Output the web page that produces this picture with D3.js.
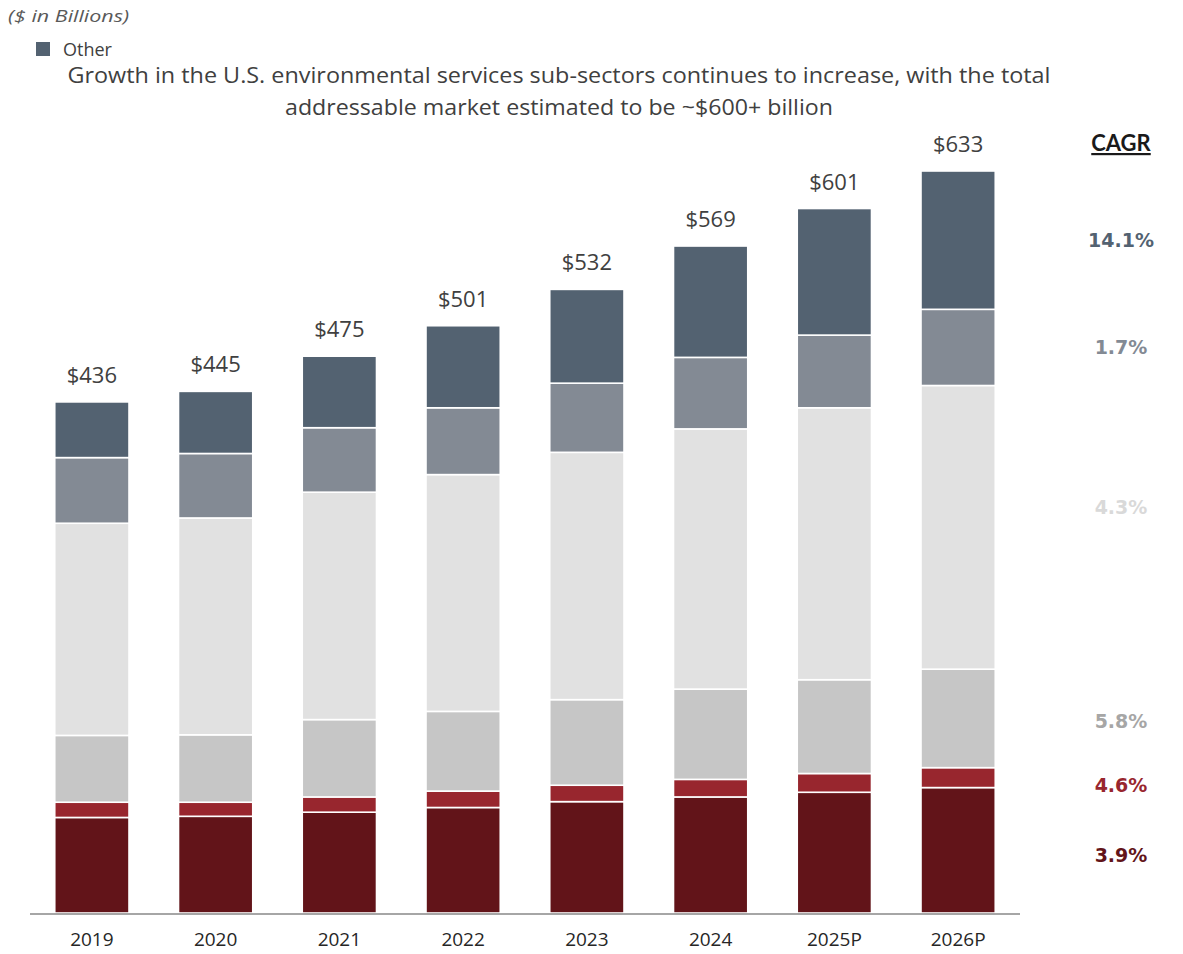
<!DOCTYPE html>
<html>
<head>
<meta charset="utf-8">
<script src="https://cdn.jsdelivr.net/npm/d3@7"></script>
<style>
  html, body { margin: 0; padding: 0; background: #fff; }
  svg { display: block; }
</style>
</head>
<body>
<svg id="chart" width="1183" height="954"></svg>
<script>
// ---- data ----
const years = ["2019", "2020", "2021", "2022", "2023", "2024", "2025P", "2026P"];
const totalLabels = ["$436", "$445", "$475", "$501", "$532", "$569", "$601", "$633"];
const seriesNames = ["s1", "s2", "s3", "s4", "s5", "Other"]; // bottom to top
const s1Values = [81.5, 82.5, 86, 90, 95, 99, 103, 107];
const s2Values = [13, 12, 13, 14, 14, 15, 16, 17];
const s3Values = [57, 57.5, 66, 68, 73, 77, 80, 84];
const s4Values = [181, 185, 194, 202, 211, 222, 232, 242];
const s5Values = [56, 55, 55, 57, 59, 61, 62, 65];
const otherValues = [47.5, 53, 61, 70, 80, 95, 108, 118];
const cagrLabels = ["3.9%", "4.6%", "5.8%", "4.3%", "1.7%", "14.1%"];
const titleLines = [
  "Growth in the U.S. environmental services sub-sectors continues to increase, with the total",
  "addressable market estimated to be ~$600+ billion"
];
const yMax = 633;

// ---- styles ----
const segColors = ["#621419", "#98262e", "#c6c6c6", "#e1e1e1", "#838a94", "#536271"];
const cagrColors = ["#621419", "#98262e", "#a6a6a6", "#d9d9d9", "#838a94", "#536271"];
const cagrNudge = [5, 7, 3, -20, 0, 0];

const svg = d3.select("#chart");
const seriesValues = [s1Values, s2Values, s3Values, s4Values, s5Values, otherValues];
const table = years.map((y, i) => {
  const row = { year: y };
  seriesNames.forEach((s, k) => row[s] = seriesValues[k][i]);
  return row;
});
const stacked = d3.stack().keys(seriesNames)(table);

const x = d3.scaleBand().domain(years).range([30, 1020]).paddingInner(0.4).paddingOuter(0.2);
const y = d3.scaleLinear().domain([0, yMax]).range([913, 171]);

// bars
svg.append("g").selectAll("g")
  .data(stacked).join("g")
  .attr("fill", (d, k) => segColors[k])
  .selectAll("rect")
  .data(d => d).join("rect")
  .attr("x", d => x(d.data.year))
  .attr("width", x.bandwidth())
  .attr("y", d => y(d[1]))
  .attr("height", d => y(d[0]) - y(d[1]))
  .attr("stroke", "#ffffff")
  .attr("stroke-width", 1.6);

// baseline
svg.append("line")
  .attr("x1", 30).attr("x2", 1020)
  .attr("y1", y(0) + 1).attr("y2", y(0) + 1)
  .attr("stroke", "#a6a6a6").attr("stroke-width", 2);

// x axis
const xAxis = svg.append("g")
  .attr("transform", `translate(0,${y(0) + 2})`)
  .call(d3.axisBottom(x).tickSize(0).tickPadding(18));
xAxis.select(".domain").remove();
xAxis.selectAll("text")
  .attr("font-family", "'Open Sans', sans-serif")
  .attr("font-size", 19)
  .attr("fill", "#262626");

// totals
const tops = stacked[stacked.length - 1];
svg.append("g").selectAll("text")
  .data(tops).join("text")
  .attr("x", d => x(d.data.year) + x.bandwidth() / 2)
  .attr("y", d => y(d[1]) - 19)
  .attr("text-anchor", "middle")
  .attr("font-family", "'Open Sans', sans-serif")
  .attr("font-size", 22)
  .attr("fill", "#404040")
  .text((d, i) => totalLabels[i]);

// title
svg.append("g").selectAll("text")
  .data(titleLines).join("text")
  .attr("x", 559)
  .attr("y", (d, i) => 83 + i * 32)
  .attr("text-anchor", "middle")
  .attr("font-family", "'Open Sans', sans-serif")
  .attr("font-size", 21.5)
  .attr("fill", "#404040")
  .attr("textLength", (d, i) => i === 0 ? 983 : 548)
  .attr("lengthAdjust", "spacingAndGlyphs")
  .text(d => d);

// unit note
svg.append("text")
  .attr("x", 8).attr("y", 22)
  .attr("font-family", "'Open Sans', sans-serif")
  .attr("font-style", "italic")
  .attr("font-size", 17)
  .attr("fill", "#595959")
  .attr("textLength", 121)
  .attr("lengthAdjust", "spacingAndGlyphs")
  .text("($ in Billions)");

// legend
svg.append("rect")
  .attr("x", 36).attr("y", 42).attr("width", 14).attr("height", 14)
  .attr("fill", segColors[5]);
svg.append("text")
  .attr("x", 63).attr("y", 56)
  .attr("font-family", "'Open Sans', sans-serif")
  .attr("font-size", 18)
  .attr("fill", "#404040")
  .text("Other");

// CAGR header
const cagrX = 1121;
svg.append("text")
  .attr("x", cagrX).attr("y", 151)
  .attr("text-anchor", "middle")
  .attr("font-family", "Lato, 'Liberation Sans', sans-serif")
  .attr("font-weight", "bold")
  .attr("font-size", 22)
  .attr("fill", "#1a1a1a")
  .attr("text-decoration", "underline")
  .text("CAGR");

// CAGR labels at 2026 segment midpoints
const last = years.length - 1;
svg.append("g").selectAll("text")
  .data(stacked).join("text")
  .attr("x", cagrX)
  .attr("y", (s, k) => y((s[last][0] + s[last][1]) / 2) + 7 + cagrNudge[k])
  .attr("text-anchor", "middle")
  .attr("font-family", "'DejaVu Sans', sans-serif")
  .attr("font-weight", "bold")
  .attr("font-size", 19)
  .attr("fill", (s, k) => cagrColors[k])
  .text((s, k) => cagrLabels[k]);
</script>
</body>
</html>
